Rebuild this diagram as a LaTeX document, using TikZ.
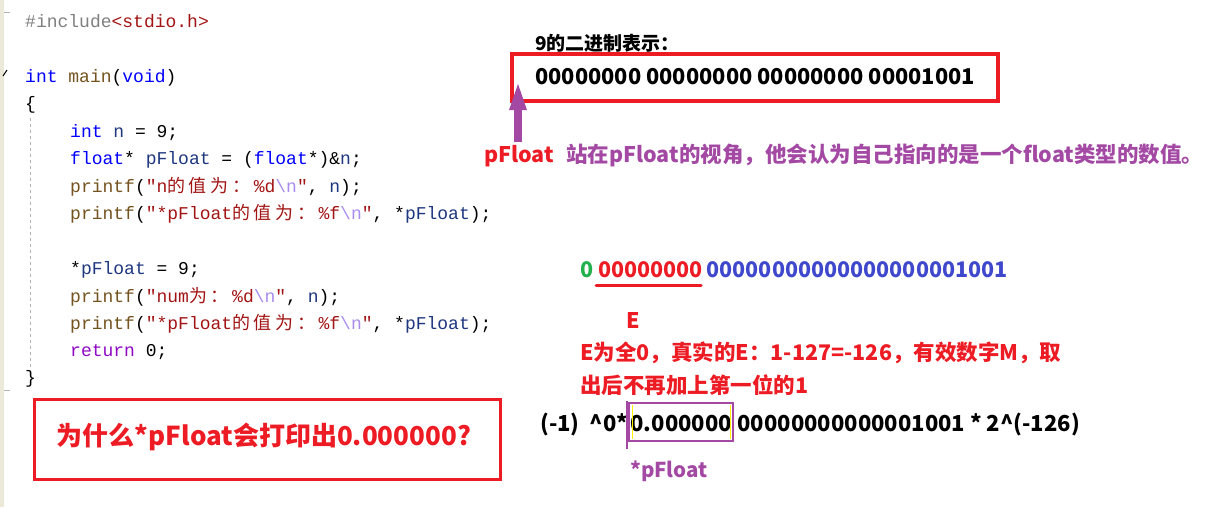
\documentclass[tikz,border=0pt]{standalone}
\usepackage{fontspec}
\setmonofont{Liberation Mono}
\newfontfamily\cjk{Noto Sans CJK SC}
\usetikzlibrary{arrows.meta,calc}
\definecolor{kwblue}{HTML}{0000FF}
\definecolor{fnbrown}{HTML}{74531F}
\definecolor{strred}{HTML}{A31515}
\definecolor{esclav}{HTML}{A98DEE}
\definecolor{varnavy}{HTML}{1F377F}
\definecolor{retpurple}{HTML}{8F08C4}
\definecolor{inclgray}{HTML}{808080}
\definecolor{boxred}{HTML}{ED1C24}
\definecolor{annpurple}{HTML}{A349A4}
\definecolor{mgreen}{HTML}{22B14C}
\definecolor{mblue}{HTML}{3F48CC}
\definecolor{edgebeige}{HTML}{ECE9D8}
\newcommand\kw[1]{\textcolor{kwblue}{#1}}
\newcommand\fn[1]{\textcolor{fnbrown}{#1}}
\newcommand\str[1]{\textcolor{strred}{#1}}
\newcommand\esc[1]{\textcolor{esclav}{#1}}
\newcommand\var[1]{\textcolor{varnavy}{#1}}
\newcommand\zc[1]{\makebox[21.6pt][l]{\cjk #1}}
\tikzset{
  codeline/.style={anchor=base west, inner sep=0pt, font=\ttfamily\fontsize{18}{18}\selectfont},
  ann/.style={anchor=base west, inner sep=0pt, font=\cjk\bfseries\fontsize{21.5}{21.5}\selectfont},
  formula/.style={ann, font=\cjk\bfseries\fontsize{22}{22}\selectfont},
  redframe/.style={draw=boxred, line width=4pt},
}
\begin{document}
\begin{tikzpicture}[x=1pt,y=-1pt]
\useasboundingbox (0,0) rectangle (1231,507);
\fill[white] (0,0) rectangle (1231,507);
\fill[edgebeige] (0,0) rectangle (4,507);
\draw[inclgray!60] (4,12) -- (10,12);
\draw[inclgray!60] (4,390) -- (10,390);
\draw[black, line width=1pt] (3,76) -- (7,70);
\draw[inclgray!60, dashed, line width=1pt] (30,118) -- (30,368);
% code
\node[codeline] (c1) at (25,27) {\textcolor{inclgray}{\#include}\str{<stdio.h>}};
\node[codeline] (c2) at (25,82) {\kw{int} \fn{main}(\kw{void})};
\node[codeline] (c3) at (25,109) {\{};
\node[codeline] (c4) at (70,137) {\kw{int} \var{n} = 9;};
\node[codeline] (c5) at (70,164) {\kw{float}* \var{pFloat} = (\kw{float}*)\&\var{n};};
\node[codeline] (c6) at (70,192) {\fn{printf}(\str{"n\zc{的}\zc{值}\zc{为}\zc{：}\%d}\esc{\textbackslash n}\str{"}, \var{n});};
\node[codeline] (c7) at (70,219) {\fn{printf}(\str{"*pFloat\zc{的}\zc{值}\zc{为}\zc{：}\%f}\esc{\textbackslash n}\str{"}, *\var{pFloat});};
\node[codeline] (c8) at (70,274) {*\var{pFloat} = 9;};
\node[codeline] (c9) at (70,302) {\fn{printf}(\str{"num\zc{为}\zc{：}\%d}\esc{\textbackslash n}\str{"}, \var{n});};
\node[codeline] (c10) at (70,329) {\fn{printf}(\str{"*pFloat\zc{的}\zc{值}\zc{为}\zc{：}\%f}\esc{\textbackslash n}\str{"}, *\var{pFloat});};
\node[codeline] (c11) at (70,356) {\textcolor{retpurple}{return} 0;};
\node[codeline] (c12) at (25,383) {\}};
% binary of 9
\node[ann, font=\cjk\bfseries\fontsize{19}{19}\selectfont] (t9) at (535,50) {9的二进制表示：};
\draw[redframe] (512,54) rectangle (998,101);
\node[ann, font=\cjk\bfseries\fontsize{21.8}{21.8}\selectfont] (bin) at (535,84) {00000000 00000000 00000000 00001001};
% pointer
\node[ann, text=boxred] (pf) at (484,162) {pFloat};
\coordinate (arrS) at (518,142);
\coordinate (arrE) at (518,80);
\draw[annpurple, line width=8pt, -{Triangle[length=30pt,width=15pt]}] (arrS) -- (arrE);
\node[ann, text=annpurple] (view) at (566,162) {站在pFloat的视角，他会认为自己指向的是一个float类型的数值。};
% bits
\node[ann] (bits) at (580,277) {\textcolor{mgreen}{0} \textcolor{boxred}{00000000}\,\textcolor{mblue}{00000000000000000001001}};
\draw[boxred, line width=3pt, line cap=round] (596,285) -- (701,285);
\node[ann, text=boxred] (E) at (626,328) {E};
\node[ann, text=boxred] (e1) at (580,360) {E为全0，真实的E：1-127=-126，有效数字M，取};
\node[ann, text=boxred] (e2) at (580,393) {出后不再加上第一位的1};
% formula
\node[formula] (f1) at (540,431) {(-1)\ \ \^{}0*};
\node[formula] (f2) at ($(f1.base east)+(2,0)$) {0.000000};
\node[formula] (f3) at ($(f2.base east)+(5,0)$) {00000000000001001 * 2\^{}(-126)};
\draw[annpurple, line width=2pt] ($(f2.base west)+(-1,-28)$) rectangle ($(f2.base east)+(1,10)$);
\draw[yellow, line width=0.8pt] ($(f2.base west)+(2,-26)$) -- ($(f2.base west)+(2,8)$);
\draw[yellow, line width=0.8pt] ($(f2.base east)+(-2,-26)$) -- ($(f2.base east)+(-2,8)$);
\draw[annpurple, line width=2pt] ($(f2.base west)+(-3,-30)$) -- ($(f2.base west)+(-3,18)$);
\node[ann, font=\cjk\bfseries\fontsize{20.5}{20.5}\selectfont, text=annpurple] (ptr) at (630,477) {*pFloat};
% question
\draw[draw=boxred, line width=3pt] (34,399) rectangle (500,479);
\node[font=\cjk\bfseries\fontsize{26}{26}\selectfont, text=boxred, inner sep=0pt] (q) at (264,437) {为什么*pFloat会打印出0.000000?};
\end{tikzpicture}
\end{document}
